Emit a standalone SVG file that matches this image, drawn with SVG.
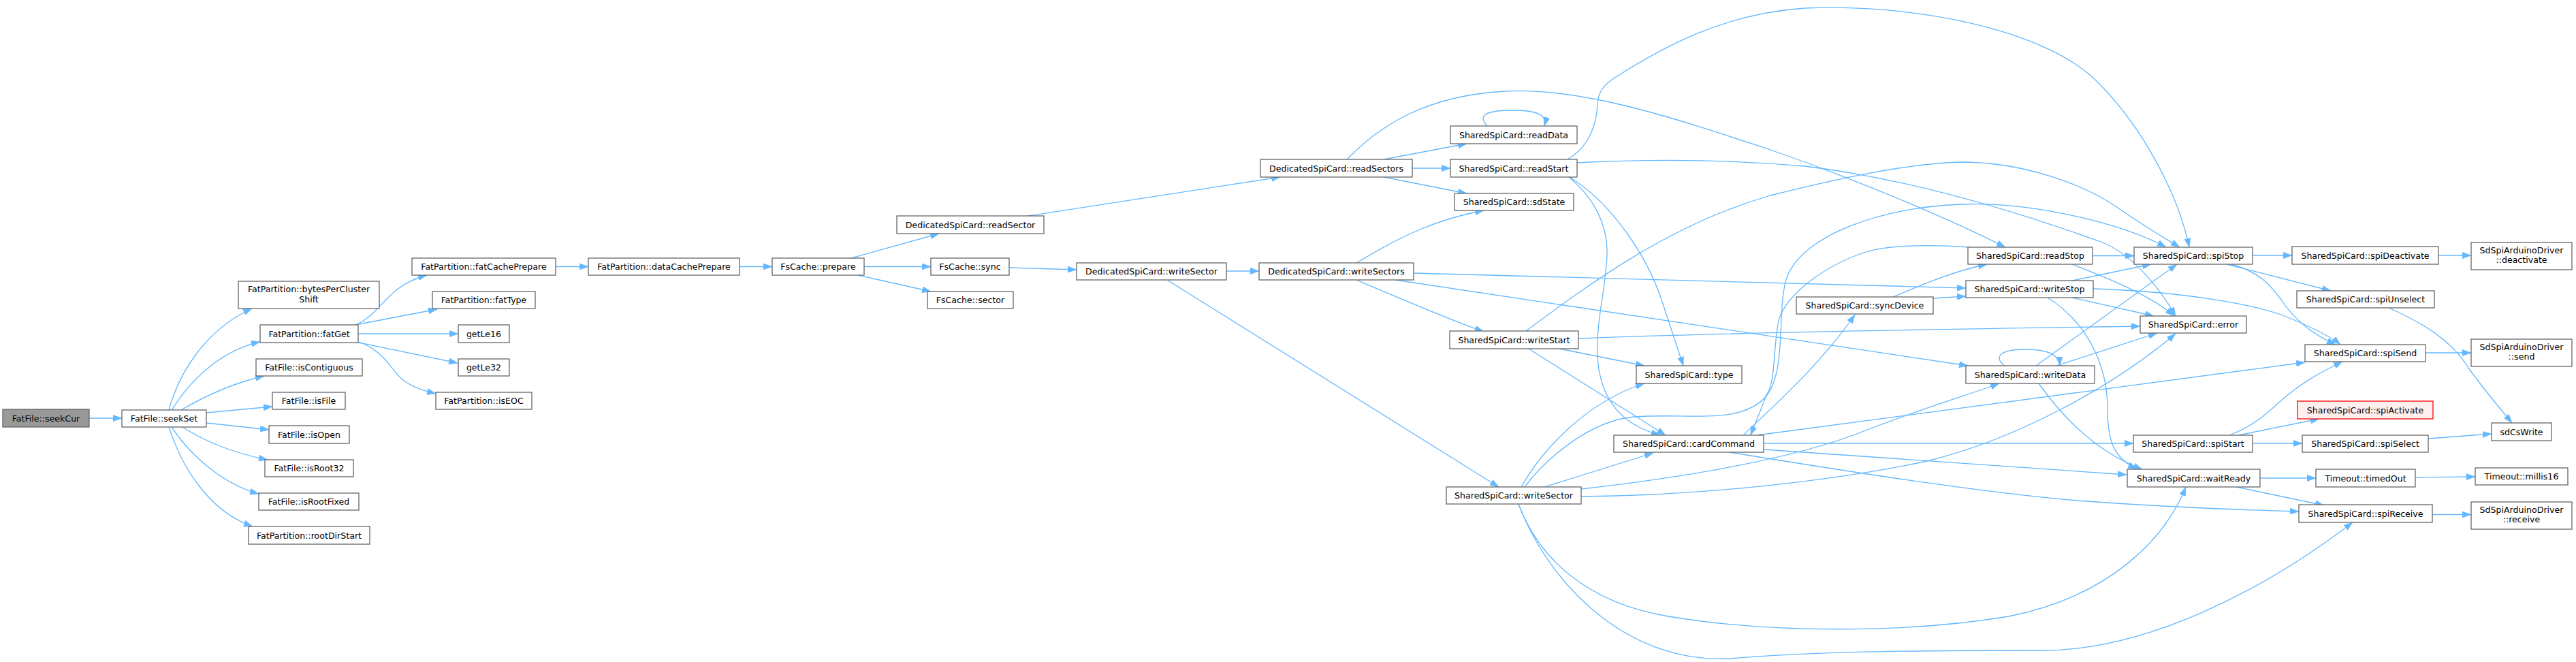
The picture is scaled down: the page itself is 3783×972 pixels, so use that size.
<svg xmlns="http://www.w3.org/2000/svg" width="3783" height="972" viewBox="0 0 3783 972">
<style>
.node rect{fill:#ffffff;stroke:#666666;stroke-width:1.3}
.node text{font-family:"DejaVu Sans",sans-serif;font-size:12.6px;fill:#000000;text-anchor:middle}
#n_seekCur rect{fill:#999999}
#n_spiActivate rect{fill:#fff0f0;stroke:#ff0000}
.edges path{fill:none;stroke:#63b8ff;stroke-width:1.3;marker-end:url(#arr)}
</style>
<defs>
<marker id="arr" markerUnits="userSpaceOnUse" markerWidth="13" markerHeight="9.4" viewBox="0 0 13 9.4" refX="13" refY="4.7" orient="auto">
<path d="M0,0 L13,4.7 L0,9.4 z" fill="#63b8ff" stroke="#63b8ff" stroke-width="0.5"/>
</marker>
</defs>
<rect x="0" y="0" width="3783" height="972" fill="#ffffff"/>
<g class="edges">
<path d="M131,614 L179,614"/>
<path d="M248,602 C262,550 300,485 370,453"/>
<path d="M252,602 C275,565 320,515 382,502"/>
<path d="M266,602 C300,582 340,563 388,552"/>
<path d="M303,606 L400,597"/>
<path d="M303,621 L395,631"/>
<path d="M268,627 C300,648 345,666 393,675"/>
<path d="M252,627 C280,670 330,712 380,725"/>
<path d="M248,627 C268,690 310,752 371,773"/>
<path d="M522,477 C560,462 566,420 627,404"/>
<path d="M522,477 L642,454"/>
<path d="M526,490 L673,490"/>
<path d="M522,502 L672,533"/>
<path d="M527,502 C565,515 575,545 592,558 C605,568 620,573 640,578"/>
<path d="M816,391.5 L864,391.5"/>
<path d="M1086,391.5 L1134,391.5"/>
<path d="M1250,379 L1379,343"/>
<path d="M1269,391.5 L1367,391.5"/>
<path d="M1260,404 L1367,428"/>
<path d="M1483,393 L1581,396"/>
<path d="M1510,317 L1880,260"/>
<path d="M1801,398 L1849,398"/>
<path d="M1714,411 L2201,715"/>
<path d="M2032,234 L2154,211"/>
<path d="M2074,247 L2130,247"/>
<path d="M2032,260 L2154,284"/>
<path d="M1978,234 C2030,180 2100,140 2210,134 C2320,128 2450,170 2600,220 C2750,272 2880,330 2945,363"/>
<path d="M1992,386 C2060,345 2110,322 2179,309"/>
<path d="M2076,401 C2300,407 2600,415 2887,423"/>
<path d="M2049,411 L2890,537"/>
<path d="M1992,411 C2060,440 2130,470 2179,487"/>
<path d="M2302,234 C2335,215 2345,180 2346,153 C2347,135 2355,125 2370,115 C2440,70 2530,20 2650,12 C2800,5 3000,40 3080,120 C3150,190 3200,290 3215,363"/>
<path d="M2316,239 C2450,232 2560,236 2650,244 C2800,262 2960,310 3085,355 C3130,372 3170,420 3195,464"/>
<path d="M2305,260 C2370,300 2420,380 2440,440 C2455,485 2465,515 2472,537"/>
<path d="M2304,260 C2340,290 2362,330 2360,375 C2358,425 2344,470 2346,520 C2348,580 2375,622 2438,639"/>
<path d="M2241,486 C2330,420 2450,330 2600,287 C2700,262 2800,240 2880,238 C2970,238 3060,270 3110,305 C3150,333 3180,350 3201,363"/>
<path d="M2318,497 C2500,490 2800,484 3143,479"/>
<path d="M2290,512 L2415,537"/>
<path d="M2245,512 L2446,639"/>
<path d="M2234,715 C2265,660 2330,590 2415,563"/>
<path d="M2239,715 C2265,680 2330,618 2400,612 C2480,606 2560,625 2595,580 C2625,540 2608,450 2625,405 C2650,345 2760,305 2880,300 C2990,296 3120,330 3181,363"/>
<path d="M2268,715 L2428,665"/>
<path d="M2322,718 C2480,700 2640,672 2740,632 C2830,597 2890,580 2936,563"/>
<path d="M2322,729 C2500,728 2700,705 2830,677 C2960,645 3100,570 3195,490"/>
<path d="M2230,740 C2260,820 2330,885 2450,905 C2600,930 2800,930 2950,905 C3100,875 3180,790 3210,715"/>
<path d="M2230,740 C2280,870 2400,975 2540,967 C2650,958 2760,955 3000,955 C3150,955 3320,870 3455,767"/>
<path d="M2560,639 C2600,600 2670,540 2724,462"/>
<path d="M2591,651 L3133,651"/>
<path d="M2591,660 L3123,697"/>
<path d="M2580,639 L3385,532"/>
<path d="M2540,664 C2700,690 2900,722 3050,735 C3200,746 3300,749 3376,751"/>
<path d="M2780,436 C2830,415 2870,398 2918,388"/>
<path d="M2839,438 L2887,435"/>
<path d="M2891,363 C2850,360 2780,358 2740,370 C2680,390 2625,430 2612,470 C2603,520 2608,560 2594,580 C2585,605 2578,620 2571,639"/>
<path d="M3073,375.5 L3134,375.5"/>
<path d="M3043,388 C3100,410 3160,435 3193,464"/>
<path d="M3043,412 L3159,388"/>
<path d="M3043,437 L3163,464"/>
<path d="M3074,424 C3200,428 3300,445 3350,462 C3390,478 3420,492 3437,506"/>
<path d="M3007,437 C3060,470 3095,530 3095,600 C3095,650 3105,672 3138,689"/>
<path d="M2944,537 C2928,525 2935,513 2975,513 C3005,513 3024,520 3025,537"/>
<path d="M2990,537 L3197,388"/>
<path d="M3020,537 L3168,489"/>
<path d="M2994,563 C3040,628 3090,668 3146,689"/>
<path d="M2184,185 C2170,170 2180,162 2222,162 C2260,162 2272,170 2268,185"/>
<path d="M3308,375 L3366,375"/>
<path d="M3270,388 L3423,427"/>
<path d="M3277,388 C3320,400 3335,420 3350,440 C3370,470 3395,490 3430,506"/>
<path d="M3581,375 L3629,375"/>
<path d="M3508,452 C3560,475 3600,500 3625,540 C3650,575 3670,598 3689,621"/>
<path d="M3562,518 L3629,518"/>
<path d="M3287,639 L3406,615"/>
<path d="M3308,651 L3381,651"/>
<path d="M3274,639 C3310,625 3328,608 3350,588 C3380,562 3405,548 3440,531"/>
<path d="M3566,644 L3659,637"/>
<path d="M3319,702 L3401,702"/>
<path d="M3284,715 L3413,742"/>
<path d="M3547,701 L3635,700"/>
<path d="M3572,755.5 L3629,755.5"/>
</g>
<g id="n_seekCur" class="node"><rect x="4" y="601" width="127" height="26"/><text x="67.5" y="618.5">FatFile::seekCur</text></g>
<g id="n_seekSet" class="node"><rect x="179" y="602" width="124" height="25"/><text x="241" y="619">FatFile::seekSet</text></g>
<g id="n_bytesPerClusterShift" class="node"><rect x="350" y="413" width="207" height="40"/><text x="453.5" y="429">FatPartition::bytesPerCluster</text><text x="453.5" y="443.5">Shift</text></g>
<g id="n_fatGet" class="node"><rect x="382" y="477" width="144" height="26"/><text x="454" y="494.5">FatPartition::fatGet</text></g>
<g id="n_isContiguous" class="node"><rect x="376" y="527" width="156" height="25"/><text x="454" y="544">FatFile::isContiguous</text></g>
<g id="n_isFile" class="node"><rect x="400" y="576" width="107" height="25"/><text x="453.5" y="593">FatFile::isFile</text></g>
<g id="n_isOpen" class="node"><rect x="395" y="625" width="118" height="26"/><text x="454" y="642.5">FatFile::isOpen</text></g>
<g id="n_isRoot32" class="node"><rect x="389" y="675" width="130" height="25"/><text x="454" y="692">FatFile::isRoot32</text></g>
<g id="n_isRootFixed" class="node"><rect x="380" y="724" width="147" height="25"/><text x="453.5" y="741">FatFile::isRootFixed</text></g>
<g id="n_rootDirStart" class="node"><rect x="365" y="773" width="178" height="26"/><text x="454" y="790.5">FatPartition::rootDirStart</text></g>
<g id="n_fatCachePrepare" class="node"><rect x="605" y="379" width="211" height="25"/><text x="710.5" y="396">FatPartition::fatCachePrepare</text></g>
<g id="n_fatType" class="node"><rect x="635" y="428" width="151" height="25"/><text x="710.5" y="445">FatPartition::fatType</text></g>
<g id="n_getLe16" class="node"><rect x="673" y="477" width="75" height="26"/><text x="710.5" y="494.5">getLe16</text></g>
<g id="n_getLe32" class="node"><rect x="673" y="527" width="75" height="25"/><text x="710.5" y="544">getLe32</text></g>
<g id="n_isEOC" class="node"><rect x="640" y="576" width="141" height="25"/><text x="710.5" y="593">FatPartition::isEOC</text></g>
<g id="n_dataCachePrepare" class="node"><rect x="864" y="379" width="222" height="25"/><text x="975" y="396">FatPartition::dataCachePrepare</text></g>
<g id="n_prepare" class="node"><rect x="1134" y="379" width="135" height="25"/><text x="1201.5" y="396">FsCache::prepare</text></g>
<g id="n_readSector" class="node"><rect x="1317" y="317" width="216" height="26"/><text x="1425" y="334.5">DedicatedSpiCard::readSector</text></g>
<g id="n_sync" class="node"><rect x="1367" y="379" width="115" height="25"/><text x="1424.5" y="396">FsCache::sync</text></g>
<g id="n_sector" class="node"><rect x="1362" y="428" width="126" height="25"/><text x="1425" y="445">FsCache::sector</text></g>
<g id="n_dWriteSector" class="node"><rect x="1581" y="386" width="220" height="25"/><text x="1691" y="403">DedicatedSpiCard::writeSector</text></g>
<g id="n_readSectors" class="node"><rect x="1851" y="234" width="223" height="26"/><text x="1962.5" y="251.5">DedicatedSpiCard::readSectors</text></g>
<g id="n_writeSectors" class="node"><rect x="1849" y="386" width="227" height="25"/><text x="1962.5" y="403">DedicatedSpiCard::writeSectors</text></g>
<g id="n_readData" class="node"><rect x="2130" y="185" width="186" height="26"/><text x="2223" y="202.5">SharedSpiCard::readData</text></g>
<g id="n_readStart" class="node"><rect x="2130" y="234" width="186" height="26"/><text x="2223" y="251.5">SharedSpiCard::readStart</text></g>
<g id="n_sdState" class="node"><rect x="2136" y="284" width="175" height="25"/><text x="2223.5" y="301">SharedSpiCard::sdState</text></g>
<g id="n_writeStart" class="node"><rect x="2129" y="486" width="189" height="26"/><text x="2223.5" y="503.5">SharedSpiCard::writeStart</text></g>
<g id="n_sWriteSector" class="node"><rect x="2124" y="715" width="198" height="25"/><text x="2223" y="732">SharedSpiCard::writeSector</text></g>
<g id="n_type" class="node"><rect x="2403" y="537" width="155" height="26"/><text x="2480.5" y="554.5">SharedSpiCard::type</text></g>
<g id="n_cardCommand" class="node"><rect x="2370" y="639" width="220" height="25"/><text x="2480" y="656">SharedSpiCard::cardCommand</text></g>
<g id="n_syncDevice" class="node"><rect x="2638" y="436" width="201" height="25"/><text x="2738.5" y="453">SharedSpiCard::syncDevice</text></g>
<g id="n_readStop" class="node"><rect x="2890" y="363" width="183" height="25"/><text x="2981.5" y="380">SharedSpiCard::readStop</text></g>
<g id="n_writeStop" class="node"><rect x="2887" y="412" width="187" height="25"/><text x="2980.5" y="429">SharedSpiCard::writeStop</text></g>
<g id="n_writeData" class="node"><rect x="2887" y="537" width="189" height="26"/><text x="2981.5" y="554.5">SharedSpiCard::writeData</text></g>
<g id="n_spiStop" class="node"><rect x="3134" y="363" width="174" height="25"/><text x="3221" y="380">SharedSpiCard::spiStop</text></g>
<g id="n_error" class="node"><rect x="3143" y="464" width="156" height="25"/><text x="3221" y="481">SharedSpiCard::error</text></g>
<g id="n_spiStart" class="node"><rect x="3133" y="639" width="175" height="25"/><text x="3220.5" y="656">SharedSpiCard::spiStart</text></g>
<g id="n_waitReady" class="node"><rect x="3124" y="689" width="195" height="26"/><text x="3221.5" y="706.5">SharedSpiCard::waitReady</text></g>
<g id="n_spiDeactivate" class="node"><rect x="3366" y="362" width="215" height="26"/><text x="3473.5" y="379.5">SharedSpiCard::spiDeactivate</text></g>
<g id="n_spiUnselect" class="node"><rect x="3373" y="427" width="202" height="25"/><text x="3474" y="444">SharedSpiCard::spiUnselect</text></g>
<g id="n_spiSend" class="node"><rect x="3385" y="506" width="177" height="25"/><text x="3473.5" y="523">SharedSpiCard::spiSend</text></g>
<g id="n_spiActivate" class="node"><rect x="3374" y="589" width="199" height="26"/><text x="3473.5" y="606.5">SharedSpiCard::spiActivate</text></g>
<g id="n_spiSelect" class="node"><rect x="3381" y="639" width="185" height="25"/><text x="3473.5" y="656">SharedSpiCard::spiSelect</text></g>
<g id="n_timedOut" class="node"><rect x="3401" y="689" width="146" height="26"/><text x="3474" y="706.5">Timeout::timedOut</text></g>
<g id="n_spiReceive" class="node"><rect x="3376" y="741" width="196" height="26"/><text x="3474" y="758.5">SharedSpiCard::spiReceive</text></g>
<g id="n_deactivate" class="node"><rect x="3629" y="356" width="148" height="40"/><text x="3703" y="371.5">SdSpiArduinoDriver</text><text x="3703" y="386">::deactivate</text></g>
<g id="n_send" class="node"><rect x="3629" y="498" width="148" height="40"/><text x="3703" y="513.5">SdSpiArduinoDriver</text><text x="3703" y="528">::send</text></g>
<g id="n_sdCsWrite" class="node"><rect x="3659" y="621" width="88" height="26"/><text x="3703" y="638.5">sdCsWrite</text></g>
<g id="n_millis16" class="node"><rect x="3635" y="687" width="136" height="25"/><text x="3703" y="704">Timeout::millis16</text></g>
<g id="n_receive" class="node"><rect x="3629" y="737" width="148" height="40"/><text x="3703" y="752.5">SdSpiArduinoDriver</text><text x="3703" y="767">::receive</text></g>
</svg>
